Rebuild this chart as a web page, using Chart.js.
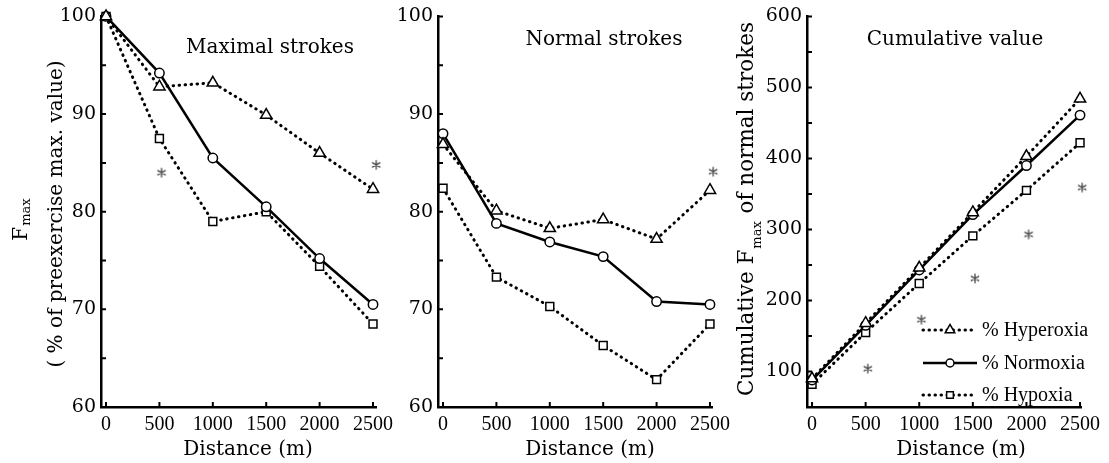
<!DOCTYPE html>
<html lang="en">
<head>
<meta charset="UTF-8">
<title>Fmax vs distance</title>
<script src="https://cdn.jsdelivr.net/npm/chart.js"></script>
<style>
  body { margin: 0; background: #fff; }
  #wrap { position: relative; width: 1109px; height: 463px; overflow: hidden; }
  #wrap canvas { position: absolute; top: 0; }
</style>
</head>
<body>
<div id="wrap">
  <canvas id="maxChart" width="410" height="463" style="left:0"></canvas>
  <canvas id="normChart" width="360" height="463" style="left:385px"></canvas>
  <canvas id="cumChart" width="384" height="463" style="left:725px"></canvas>
</div>

<script>
// distance covered (m)
const distances = [0, 500, 1000, 1500, 2000, 2500];
const xTicks = [0, 500, 1000, 1500, 2000, 2500];

// maximal strokes, % of preexercise max
const maxHyperoxia = [100, 92.8, 93.2, 89.9, 86.0, 82.3];
const maxNormoxia  = [100, 94.2, 85.5, 80.5, 75.2, 70.5];
const maxHypoxia   = [100, 87.5, 79.0, 80.0, 74.4, 68.5];
const maxSigX = [520, 2530];
const maxSigY = [84.0, 84.8];

// normal strokes, % of preexercise max
const normHyperoxia = [86.9, 80.1, 78.3, 79.2, 77.2, 82.2];
const normNormoxia  = [88.0, 78.8, 76.9, 75.4, 70.8, 70.5];
const normHypoxia   = [82.4, 73.3, 70.3, 66.3, 62.8, 68.5];
const normSigX = [2530];
const normSigY = [84.1];

// cumulative Fmax of normal strokes
const cumHyperoxia = [90, 168, 246, 324, 403, 484];
const cumNormoxia  = [88, 165, 243, 321, 390, 461];
const cumHypoxia   = [82, 155, 224, 291, 355, 422];
const cumSigX = [520, 1020, 1520, 2020, 2520];
const cumSigY = [104, 173, 231, 293, 359];

const pctTicks = [60, 65, 70, 75, 80, 85, 90, 95, 100];
const pctLabels = [60, 70, 80, 90, 100];
const cumTicks = [100, 150, 200, 250, 300, 350, 400, 450, 500, 550, 600];
const cumLabels = [100, 200, 300, 400, 500, 600];

const seriesNames = ['% Hyperoxia', '% Normoxia', '% Hypoxia'];

const SERIF = 'DejaVu Serif';

// six-armed asterisk used as the significance marker
const asterisk = (() => {
  const c = document.createElement('canvas');
  c.width = 12; c.height = 12;
  const g = c.getContext('2d');
  g.strokeStyle = '#444';
  g.lineWidth = 1.3;
  g.lineCap = 'round';
  g.beginPath();
  [90, 30, 150].forEach(a => {
    const r = a * Math.PI / 180, dx = Math.cos(r) * 4.3, dy = Math.sin(r) * 4.3;
    g.moveTo(6 - dx, 6 - dy);
    g.lineTo(6 + dx, 6 + dy);
  });
  g.stroke();
  return c;
})();

const dotted = { borderDash: [0.5, 5.5], borderCapStyle: 'round', borderWidth: 3 };
const styles = [
  { pointStyle: 'triangle', pointRadius: 6.5, ...dotted },
  { pointStyle: 'circle', pointRadius: 4.7, borderWidth: 2.5 },
  { pointStyle: 'rect', pointRadius: 5.6, ...dotted },
];

function series(i, values) {
  return {
    label: seriesNames[i],
    data: distances.map((d, k) => ({ x: d, y: values[k] })),
    borderColor: '#000',
    pointBorderColor: '#000',
    pointBackgroundColor: '#fff',
    pointBorderWidth: 1.5,
    tension: 0,
    clip: false,
    ...styles[i],
  };
}

function stars(xs, ys) {
  return {
    label: '*',
    data: xs.map((x, k) => ({ x, y: ys[k] })),
    showLine: false,
    pointStyle: asterisk,
    clip: false,
  };
}

function xScale(min, max) {
  return {
    type: 'linear', min, max,
    afterBuildTicks: s => { s.ticks = xTicks.map(v => ({ value: v })); },
    afterFit: s => { s.height = 56; },
    grid: { display: false, drawTicks: false },
    border: { display: true, color: '#000', width: 2.5 },
    ticks: {
      color: '#000', padding: 6, autoSkip: false, maxRotation: 0,
      font: { family: 'Liberation Serif', size: 20 },
      callback: v => String(v),
    },
  };
}

function yScale(min, max, ticks, labeled, width) {
  return {
    min, max,
    afterBuildTicks: s => { s.ticks = ticks.map(v => ({ value: v })); },
    afterFit: s => { s.width = width; },
    grid: { display: false, drawTicks: false },
    border: { display: true, color: '#000', width: 2.5 },
    ticks: {
      color: '#000', padding: 5, autoSkip: false,
      font: { family: SERIF, size: 19 },
      callback: v => labeled.includes(v) ? String(v) : '',
    },
  };
}

// short tick marks pointing into the plot
const inwardTicks = {
  id: 'inwardTicks',
  beforeDatasetsDraw(chart) {
    const { ctx, chartArea, scales: { x, y } } = chart;
    ctx.save();
    ctx.strokeStyle = '#000';
    ctx.lineWidth = 2;
    ctx.beginPath();
    x.ticks.forEach(t => {
      const px = x.getPixelForValue(t.value);
      ctx.moveTo(px, chartArea.bottom);
      ctx.lineTo(px, chartArea.bottom - 5);
    });
    y.ticks.forEach(t => {
      const py = y.getPixelForValue(t.value);
      ctx.moveTo(chartArea.left, py);
      ctx.lineTo(chartArea.left + 5, py);
    });
    ctx.stroke();
    ctx.restore();
  }
};

// titles and axis names, with optional subscript parts
const figureText = {
  id: 'figureText',
  afterDraw(chart, args, opts) {
    const ctx = chart.ctx;
    (opts.items || []).forEach(item => {
      const size = item.size || 20;
      const font = `${size}px "${SERIF}"`;
      const subFont = `13px "${SERIF}"`;
      const fonts = item.parts.map(p => p.sub ? subFont : font);
      let total = 0;
      const widths = item.parts.map((p, i) => {
        ctx.font = fonts[i];
        const w = ctx.measureText(p.t).width;
        total += w;
        return w;
      });
      ctx.save();
      ctx.fillStyle = '#000';
      ctx.textBaseline = 'alphabetic';
      ctx.textAlign = 'left';
      ctx.translate(item.x, item.y);
      if (item.rotate) ctx.rotate(-Math.PI / 2);
      let cx = -total / 2;
      item.parts.forEach((p, i) => {
        ctx.font = fonts[i];
        ctx.fillText(p.t, cx + (p.sub ? 1 : 0), p.sub ? (item.subShift || 3) : 0);
        cx += widths[i] + (p.sub ? 2 : 0);
      });
      ctx.restore();
    });
  }
};

// line-and-marker key drawn inside the plot
const seriesKey = {
  id: 'seriesKey',
  afterDraw(chart, args, opts) {
    if (!opts.rows) return;
    const ctx = chart.ctx;
    opts.rows.forEach((rowY, i) => {
      const ds = chart.data.datasets[i];
      ctx.save();
      ctx.strokeStyle = '#000';
      ctx.lineWidth = ds.borderWidth;
      ctx.lineCap = ds.borderCapStyle || 'butt';
      ctx.setLineDash(ds.borderDash || []);
      ctx.beginPath();
      ctx.moveTo(opts.x0, rowY);
      ctx.lineTo(opts.x1, rowY);
      ctx.stroke();
      ctx.setLineDash([]);
      ctx.fillStyle = '#fff';
      ctx.lineWidth = 1.5;
      Chart.helpers.drawPoint(ctx, {
        pointStyle: ds.pointStyle, radius: ds.pointRadius * 0.85, rotation: 0, borderWidth: 1.5
      }, (opts.x0 + opts.x1) / 2, rowY);
      ctx.fillStyle = '#000';
      ctx.font = '20px "Liberation Serif"';
      ctx.textBaseline = 'middle';
      ctx.fillText(ds.label, opts.x1 + 5, rowY + 1);
      ctx.restore();
    });
  }
};

function makeChart(id, cfg) {
  return new Chart(document.getElementById(id), {
    type: 'line',
    data: { datasets: cfg.datasets },
    options: {
      responsive: false,
      animation: false,
      layout: { padding: { top: cfg.top, right: cfg.right, left: 0, bottom: 0 } },
      scales: { x: cfg.x, y: cfg.y },
      plugins: {
        legend: { display: false },
        tooltip: { enabled: false },
        figureText: { items: cfg.texts },
        seriesKey: cfg.key || {},
      },
    },
    plugins: [inwardTicks, figureText, seriesKey],
  });
}

makeChart('maxChart', {
  top: 14, right: 34,
  x: xScale(-47, 2528),
  y: yScale(60, 100, pctTicks, pctLabels, 101),
  datasets: [
    series(0, maxHyperoxia), series(1, maxNormoxia), series(2, maxHypoxia),
    stars(maxSigX, maxSigY),
  ],
  texts: [
    { parts: [{ t: 'Maximal strokes' }], x: 270, y: 53 },
    { parts: [{ t: 'Distance (m)' }], x: 248, y: 455 },
    { parts: [{ t: 'F' }, { t: 'max', sub: true }], x: 27, y: 220, rotate: true, subShift: 3 },
    { parts: [{ t: '( % of preexercise max. value)' }], x: 62, y: 214, rotate: true },
  ],
});

makeChart('normChart', {
  top: 14, right: 33,
  x: xScale(-47, 2519),
  y: yScale(60, 100, pctTicks, pctLabels, 53),
  datasets: [
    series(0, normHyperoxia), series(1, normNormoxia), series(2, normHypoxia),
    stars(normSigX, normSigY),
  ],
  texts: [
    { parts: [{ t: 'Normal strokes' }], x: 219, y: 45 },
    { parts: [{ t: 'Distance (m)' }], x: 205, y: 455 },
  ],
});

makeChart('cumChart', {
  top: 15, right: 28,
  x: xScale(-47, 2509),
  y: yScale(50, 600, cumTicks, cumLabels, 82),
  datasets: [
    series(0, cumHyperoxia), series(1, cumNormoxia), series(2, cumHypoxia),
    stars(cumSigX, cumSigY),
  ],
  texts: [
    { parts: [{ t: 'Cumulative value' }], x: 230, y: 45 },
    { parts: [{ t: 'Distance (m)' }], x: 236, y: 455 },
    { parts: [{ t: 'Cumulative F' }, { t: 'max', sub: true }, { t: ' of normal strokes' }],
      x: 28, y: 210, rotate: true, size: 21.5, subShift: 8 },
  ],
  key: { rows: [330, 363, 395], x0: 198, x1: 252 },
});
</script>
</body>
</html>
